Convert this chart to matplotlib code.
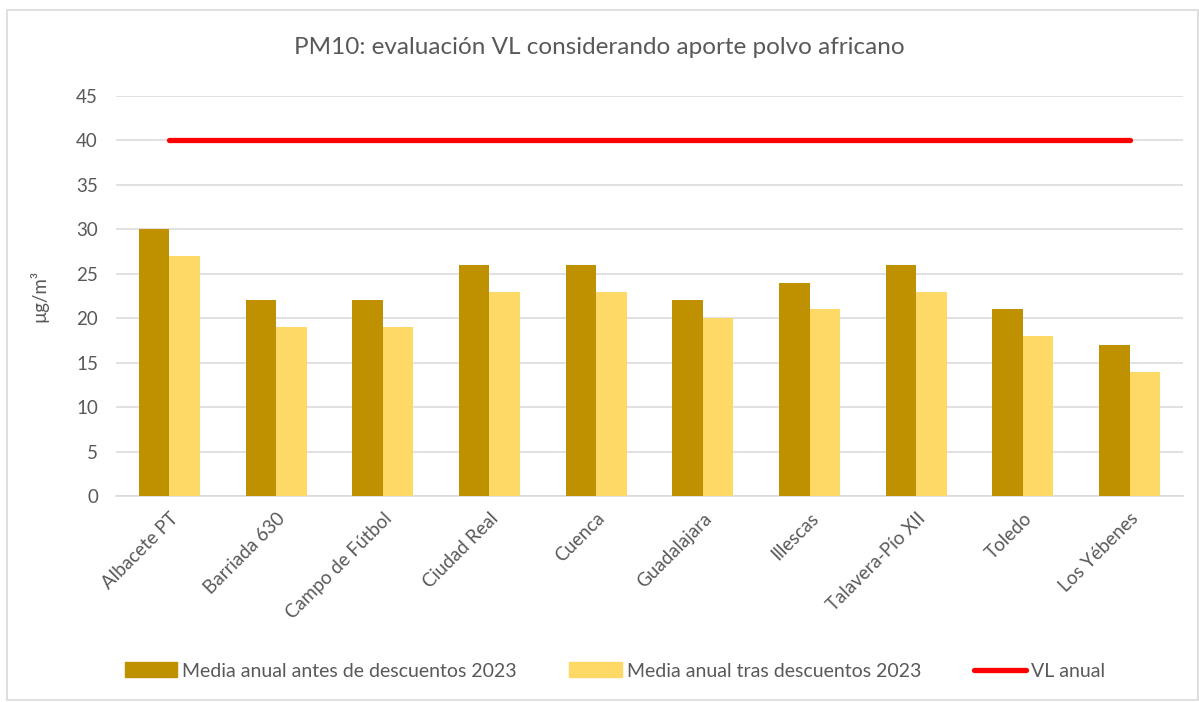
import matplotlib
matplotlib.use("Agg")
import matplotlib.pyplot as plt
from matplotlib.patches import Rectangle
from matplotlib.lines import Line2D
import numpy as np

plt.rcParams['font.family'] = ['Lato', 'DejaVu Sans']

categories = ["Albacete PT", "Barriada 630", "Campo de Fútbol", "Ciudad Real", "Cuenca",
              "Guadalajara", "Illescas", "Talavera-Pío XII", "Toledo", "Los Yébenes"]
antes = [30, 22, 22, 26, 26, 22, 24, 26, 21, 17]
tras = [27, 19, 19, 23, 23, 20, 21, 23, 18, 14]
vl = [40] * len(categories)
yticks = [0, 5, 10, 15, 20, 25, 30, 35, 40, 45]

c_antes = "#BF9000"
c_tras = "#FFD966"
c_vl = "#FF0000"
txt = "#595959"

fig = plt.figure(figsize=(11.99, 7.02), dpi=100)
ax = fig.add_axes([116/1199, 1 - 496/702, (1183-116)/1199, 400/702])

x = np.arange(len(categories))
w = 0.286
ax.bar(x - w/2, antes, w, color=c_antes, label="Media anual antes de descuentos 2023", zorder=3)
ax.bar(x + w/2, tras, w, color=c_tras, label="Media anual tras descuentos 2023", zorder=3)
ax.plot(x, vl, color=c_vl, lw=3.8, solid_capstyle='round', label="VL anual", zorder=4)

ax.set_xlim(-0.5, len(categories) - 0.5)
ax.set_ylim(0, 45)
ax.set_yticks(yticks)
ax.yaxis.grid(True, color="#D9D9D9", lw=1.1, zorder=0)
ax.set_axisbelow(True)
for s in ["top", "right", "left"]:
    ax.spines[s].set_visible(False)
ax.spines["bottom"].set_color("#D9D9D9")
ax.spines["bottom"].set_linewidth(1.1)
ax.tick_params(axis="both", length=0, colors=txt, labelsize=13.5)
ax.tick_params(axis="y", pad=13)
ax.set_xticks(x)
ax.set_xticklabels(categories, rotation=45, ha="right", rotation_mode="anchor")
ax.tick_params(axis="x", pad=10)
ax.set_ylabel("µg/m³", color=txt, fontsize=13.5, labelpad=20)

fig.text(0.5, 1 - 47/702, "PM10: evaluación VL considerando aporte polvo africano",
         ha="center", va="center", fontsize=17.5, color=txt)

handles = [Rectangle((0, 0), 1, 1, color=c_antes),
           Rectangle((0, 0), 1, 1, color=c_tras),
           Line2D([0], [0], color=c_vl, lw=3.8, solid_capstyle='round')]
labels = ["Media anual antes de descuentos 2023", "Media anual tras descuentos 2023", "VL anual"]
leg = fig.legend(handles, labels, loc="center", bbox_to_anchor=(0.513, 1 - 671/702), ncol=3,
                 frameon=False, fontsize=14, handlelength=2.7, handleheight=0.8,
                 handletextpad=0.25, columnspacing=2.7, labelcolor=txt)

fig.patches.append(Rectangle((7/1199, 2/702), 1 - 8/1199, 1 - 12/702, transform=fig.transFigure,
                             fill=False, edgecolor="#D9D9D9", lw=1.2))

fig.savefig("out.png", dpi=100)
